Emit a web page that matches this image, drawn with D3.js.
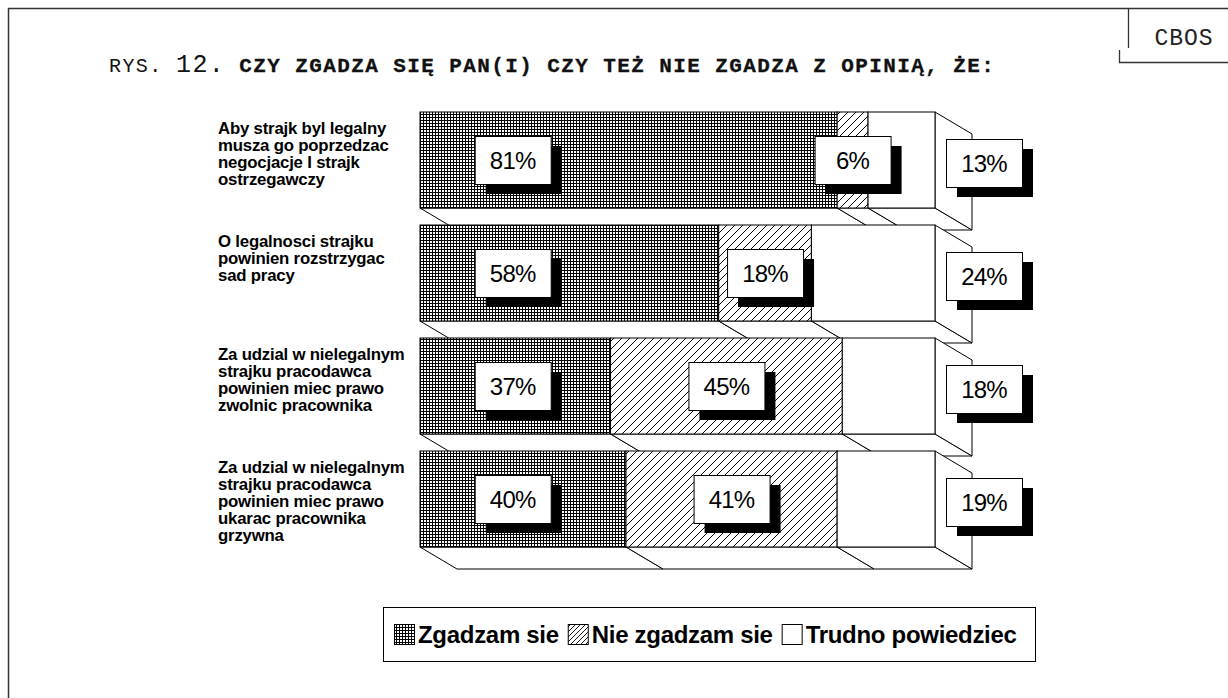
<!DOCTYPE html>
<html>
<head>
<meta charset="utf-8">
<script src="https://cdn.jsdelivr.net/npm/d3@7"></script>
<style>
  html, body { margin: 0; padding: 0; background: #fff; }
</style>
</head>
<body>
<div id="svg-container"></div>
<script>
// Data
const categories = [
  ['Aby strajk byl legalny', 'musza go poprzedzac', 'negocjacje I strajk', 'ostrzegawczy'],
  ['O legalnosci strajku', 'powinien rozstrzygac', 'sad pracy'],
  ['Za udzial w nielegalnym', 'strajku pracodawca', 'powinien miec prawo', 'zwolnic pracownika'],
  ['Za udzial w nielegalnym', 'strajku pracodawca', 'powinien miec prawo', 'ukarac pracownika', 'grzywna'],
]
const agree = [81, 58, 37, 40]
const disagree = [6, 18, 45, 41]
const hardToSay = [13, 24, 18, 19]
const seriesNames = ['Zgadzam sie', 'Nie zgadzam sie', 'Trudno powiedziec']
const seriesFills = ['url(#grid)', 'url(#hatch)', '#fff']

const width = 1228
const height = 698

// 3D depth of the bars
const depthX = 37
const depthY = 22

const svg = d3
  .select('#svg-container')
  .append('svg')
  .attr('width', width)
  .attr('height', height)
  .style('display', 'block')
  .style('background', '#fff')

const defs = svg.append('defs')

const grid = defs
  .append('pattern')
  .attr('id', 'grid')
  .attr('patternUnits', 'userSpaceOnUse')
  .attr('width', 3)
  .attr('height', 3)
grid.append('rect').attr('width', 3).attr('height', 3).attr('fill', '#fff')
grid.append('rect').attr('width', 3).attr('height', 1).attr('fill', '#000')
grid.append('rect').attr('width', 1).attr('height', 3).attr('fill', '#000')

const hatch = defs
  .append('pattern')
  .attr('id', 'hatch')
  .attr('patternUnits', 'userSpaceOnUse')
  .attr('width', 8)
  .attr('height', 8)
hatch.append('rect').attr('width', 8).attr('height', 8).attr('fill', '#fff')
hatch
  .append('path')
  .attr('d', 'M-2,2 L2,-2 M0,8 L8,0 M6,10 L10,6')
  .attr('stroke', '#000')
  .attr('stroke-width', 1)

// finer hatch for the legend swatch
const hatchSmall = defs
  .append('pattern')
  .attr('id', 'hatch-small')
  .attr('patternUnits', 'userSpaceOnUse')
  .attr('width', 5)
  .attr('height', 5)
hatchSmall.append('rect').attr('width', 5).attr('height', 5).attr('fill', '#fff')
hatchSmall
  .append('path')
  .attr('d', 'M-1,1 L1,-1 M0,5 L5,0 M4,6 L6,4')
  .attr('stroke', '#000')
  .attr('stroke-width', 0.9)

// page frame
svg.append('line').attr('x1', 8).attr('x2', width).attr('y1', 8.5).attr('y2', 8.5)
  .attr('stroke', '#333').attr('stroke-width', 1.5)
svg.append('line').attr('x1', 8.5).attr('x2', 8.5).attr('y1', 8).attr('y2', height)
  .attr('stroke', '#333').attr('stroke-width', 1.5)

// CBOS tab
svg.append('path')
  .attr('d', 'M1128.5,9 V48 M1119.5,50 V62.5 H1228')
  .attr('fill', 'none')
  .attr('stroke', '#333')
  .attr('stroke-width', 1.3)
svg.append('text')
  .attr('x', 1184)
  .attr('y', 45)
  .attr('text-anchor', 'middle')
  .attr('font-family', '"Liberation Mono", "Courier New", monospace')
  .attr('font-size', 23)
  .attr('letter-spacing', 1)
  .attr('fill', '#222')
  .text('CBOS')

// title
const title = svg.append('text')
  .attr('x', 109)
  .attr('y', 72)
  .attr('font-family', '"Liberation Mono", "Courier New", monospace')
  .attr('letter-spacing', 1.4)
  .attr('fill', '#111')
title.append('tspan').attr('font-size', 20).text('RYS. ')
title.append('tspan').attr('font-size', 25).text('12.')
title.append('tspan').attr('font-size', 21).attr('font-weight', 'bold')
  .attr('stroke', '#111').attr('stroke-width', 0.3)
  .text(' CZY ZGADZA SIĘ PAN(I) CZY TEŻ NIE ZGADZA Z OPINIĄ, ŻE:')

// scales
const xScale = d3.scaleLinear().domain([0, 100]).range([420, 935])
const yScale = d3
  .scaleBand()
  .domain(d3.range(categories.length))
  .range([112, 547])
  .paddingInner(17 / 113)
  .paddingOuter(0)

const rows = categories.map((lines, i) => {
  const values = [agree[i], disagree[i], hardToSay[i]]
  let acc = 0
  const segments = values.map((v, s) => {
    const seg = { series: s, value: v, x0: acc, x1: acc + v }
    acc += v
    return seg
  })
  return { index: i, lines, segments }
})

const chart = svg.append('g')

const bars = chart
  .selectAll('.bar')
  .data(rows)
  .join('g')
  .attr('class', 'bar')

bars.each(function (row) {
  const g = d3.select(this)
  const top = yScale(row.index)
  const bottom = top + yScale.bandwidth()

  // bottom faces
  g.selectAll('.bottom')
    .data(row.segments)
    .join('path')
    .attr('class', 'bottom')
    .attr('d', d => {
      const a = xScale(d.x0)
      const b = xScale(d.x1)
      return `M${a},${bottom} L${b},${bottom} L${b + depthX},${bottom + depthY} L${a + depthX},${bottom + depthY} Z`
    })
    .attr('fill', '#fff')
    .attr('stroke', '#000')
    .attr('stroke-width', 1)
    .attr('stroke-linejoin', 'round')

  // right side face
  const r = xScale(100)
  g.append('path')
    .attr('d', `M${r},${top} L${r + depthX},${top + depthY} L${r + depthX},${bottom + depthY} L${r},${bottom} Z`)
    .attr('fill', '#fff')
    .attr('stroke', '#000')
    .attr('stroke-width', 1)

  // front faces
  g.selectAll('.front')
    .data(row.segments)
    .join('rect')
    .attr('class', 'front')
    .attr('x', d => xScale(d.x0))
    .attr('y', top)
    .attr('width', d => xScale(d.x1) - xScale(d.x0))
    .attr('height', yScale.bandwidth())
    .attr('fill', d => seriesFills[d.series])
    .attr('stroke', '#000')
    .attr('stroke-width', 1)
})

// category labels
bars.each(function (row) {
  const top = yScale(row.index)
  d3.select(this)
    .append('text')
    .attr('font-family', '"Liberation Sans", Arial, sans-serif')
    .attr('font-size', 16.8)
    .attr('font-weight', 'bold')
    .attr('letter-spacing', -0.2)
    .attr('fill', '#000')
    .selectAll('tspan')
    .data(row.lines)
    .join('tspan')
    .attr('x', 218)
    .attr('y', (d, k) => top + 22 + k * 17)
    .text(d => d)
})

// value labels with drop shadow
const boxW = 76
const boxH = 48
const shadow = 10
const labels = []
rows.forEach(row => {
  const mid = yScale(row.index) + yScale.bandwidth() / 2
  row.segments.forEach(seg => {
    let cx
    let cy = mid
    if (seg.series === 0) {
      cx = Math.min((xScale(seg.x0) + xScale(seg.x1)) / 2, xScale(18))
    } else if (seg.series === 1) {
      cx = (xScale(seg.x0) + xScale(seg.x1)) / 2
    } else {
      cx = xScale(100) + 49
      cy = mid + 3
    }
    labels.push({ cx, cy, text: `${seg.value}%` })
  })
})

const labelG = chart
  .selectAll('.label')
  .data(labels)
  .join('g')
  .attr('class', 'label')
  .attr('transform', d => `translate(${d.cx - boxW / 2},${d.cy - boxH / 2})`)

labelG.append('rect')
  .attr('x', shadow + 1)
  .attr('y', shadow)
  .attr('width', boxW)
  .attr('height', boxH)
  .attr('fill', '#000')
labelG.append('rect')
  .attr('x', 0.5)
  .attr('y', 0.5)
  .attr('width', boxW)
  .attr('height', boxH)
  .attr('fill', '#fff')
  .attr('stroke', '#000')
  .attr('stroke-width', 1)
labelG.append('text')
  .attr('x', boxW / 2)
  .attr('y', boxH / 2 + 8.5)
  .attr('text-anchor', 'middle')
  .attr('font-family', '"Liberation Sans", Arial, sans-serif')
  .attr('font-size', 24)
  .attr('letter-spacing', -0.8)
  .attr('fill', '#000')
  .text(d => d.text)

// legend
const legend = svg.append('g')
legend.append('rect')
  .attr('x', 383.5)
  .attr('y', 607.5)
  .attr('width', 652)
  .attr('height', 54)
  .attr('fill', '#fff')
  .attr('stroke', '#000')
  .attr('stroke-width', 1)

const legendFills = ['url(#grid)', 'url(#hatch-small)', '#fff']
let lx = 394
seriesNames.forEach((name, i) => {
  legend.append('rect')
    .attr('x', lx + 0.5)
    .attr('y', 624.5)
    .attr('width', 20)
    .attr('height', 20)
    .attr('fill', legendFills[i])
    .attr('stroke', '#000')
    .attr('stroke-width', 1)
  const t = legend.append('text')
    .attr('x', lx + 24)
    .attr('y', 643)
    .attr('font-family', '"Liberation Sans", Arial, sans-serif')
    .attr('font-weight', 'bold')
    .attr('font-size', 24)
    .attr('letter-spacing', -0.3)
    .attr('fill', '#000')
    .text(name)
  lx += 24 + t.node().getComputedTextLength() + 9
})
</script>
</body>
</html>
